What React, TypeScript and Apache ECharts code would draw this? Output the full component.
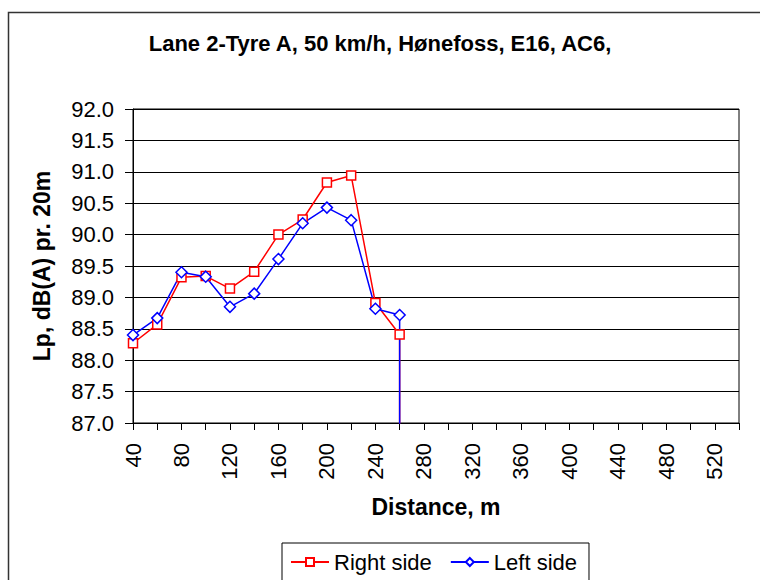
import React, { useEffect, useRef } from "react";
import * as echarts from "echarts";

const titleText = "Lane 2-Tyre A, 50 km/h, Hønefoss, E16, AC6,";
const xAxisName = "Distance, m";
const yAxisName = "Lp, dB(A) pr. 20m";

const distances = [40, 60, 80, 100, 120, 140, 160, 180, 200, 220, 240, 260, 260];
const rightSide = [88.27, 88.57, 89.32, 89.34, 89.14, 89.41, 90.0, 90.24, 90.83, 90.94, 88.91, 88.41, 0];
const leftSide = [88.4, 88.67, 89.4, 89.33, 88.85, 89.06, 89.61, 90.18, 90.43, 90.23, 88.82, 88.72, 0];

const xMin = 40;
const xMax = 540;
const xStep = 20;
const yMin = 87;
const yMax = 92;
const yStep = 0.5;

const FONT = '"Liberation Sans", Arial, sans-serif';

function buildData(values: number[]) {
  return distances.map((d, i) =>
    values[i] === 0 ? { value: [d, values[i]], symbol: "none" } : { value: [d, values[i]] }
  );
}

export default function App() {
  const ref = useRef<HTMLDivElement>(null);
  useEffect(() => {
    document.body.style.margin = "0";
    if (!ref.current) return;
    const chart = echarts.init(ref.current, undefined, { renderer: "svg" });
    chart.setOption({
      animation: false,
      backgroundColor: "#fff",
      textStyle: { fontFamily: FONT },
      title: {
        text: titleText,
        left: "center",
        top: 27,
        textStyle: { fontFamily: FONT, fontSize: 22, fontWeight: "bold", color: "#000" },
      },
      graphic: [
        {
          type: "rect",
          shape: { x: 8.5, y: 12.5, width: 800, height: 700 },
          style: { fill: "none", stroke: "#333", lineWidth: 1.5 },
          silent: true,
        },
      ],
      legend: {
        left: 282,
        top: 543,
        padding: [8, 12, 40, 8],
        borderColor: "#000",
        borderWidth: 1,
        itemWidth: 38,
        itemHeight: 10,
        itemGap: 18,
        textStyle: { fontFamily: FONT, fontSize: 22, color: "#000" },
        data: ["Right side", "Left side"],
      },
      grid: {
        left: 133,
        top: 109,
        right: 21,
        bottom: 157,
        show: true,
        borderColor: "#000",
        borderWidth: 1,
        backgroundColor: "#fff",
      },
      xAxis: {
        type: "value",
        min: xMin,
        max: xMax,
        interval: xStep,
        name: xAxisName,
        nameLocation: "middle",
        nameGap: 72,
        nameTextStyle: { fontFamily: FONT, fontSize: 23, fontWeight: "bold", color: "#000" },
        axisLine: { show: true, lineStyle: { color: "#000", width: 1 } },
        axisTick: { show: true, length: 7, lineStyle: { color: "#000" } },
        splitLine: { show: false },
        axisLabel: {
          rotate: 90,
          margin: 20,
          fontSize: 22,
          fontFamily: FONT,
          color: "#000",
          formatter: (v: number) => ((v - xMin) % 40 === 0 && v < xMax ? String(v) : ""),
        },
      },
      yAxis: {
        type: "value",
        min: yMin,
        max: yMax,
        interval: yStep,
        name: yAxisName,
        nameLocation: "middle",
        nameGap: 80,
        nameTextStyle: { fontFamily: FONT, fontSize: 23, fontWeight: "bold", color: "#000" },
        axisLine: { show: true, lineStyle: { color: "#000", width: 1 } },
        axisTick: { show: true, length: 8, lineStyle: { color: "#000" } },
        splitLine: { show: true, lineStyle: { color: "#000", width: 1 } },
        axisLabel: {
          margin: 19,
          fontSize: 22,
          fontFamily: FONT,
          color: "#000",
          formatter: (v: number) => v.toFixed(1),
        },
      },
      series: [
        {
          name: "Right side",
          type: "line",
          data: buildData(rightSide),
          symbol: "rect",
          symbolSize: 9,
          showAllSymbol: true,
          clip: true,
          lineStyle: { color: "#ff0000", width: 1.5 },
          itemStyle: { color: "#fff", borderColor: "#ff0000", borderWidth: 1.5 },
          color: "#ff0000",
        },
        {
          name: "Left side",
          type: "line",
          data: buildData(leftSide),
          symbol: "diamond",
          symbolSize: 11,
          showAllSymbol: true,
          clip: true,
          lineStyle: { color: "#0000ff", width: 1.5 },
          itemStyle: { color: "#fff", borderColor: "#0000ff", borderWidth: 1.5 },
          color: "#0000ff",
        },
      ],
    });
    return () => chart.dispose();
  }, []);
  return <div ref={ref} style={{ width: 760, height: 580 }} />;
}
